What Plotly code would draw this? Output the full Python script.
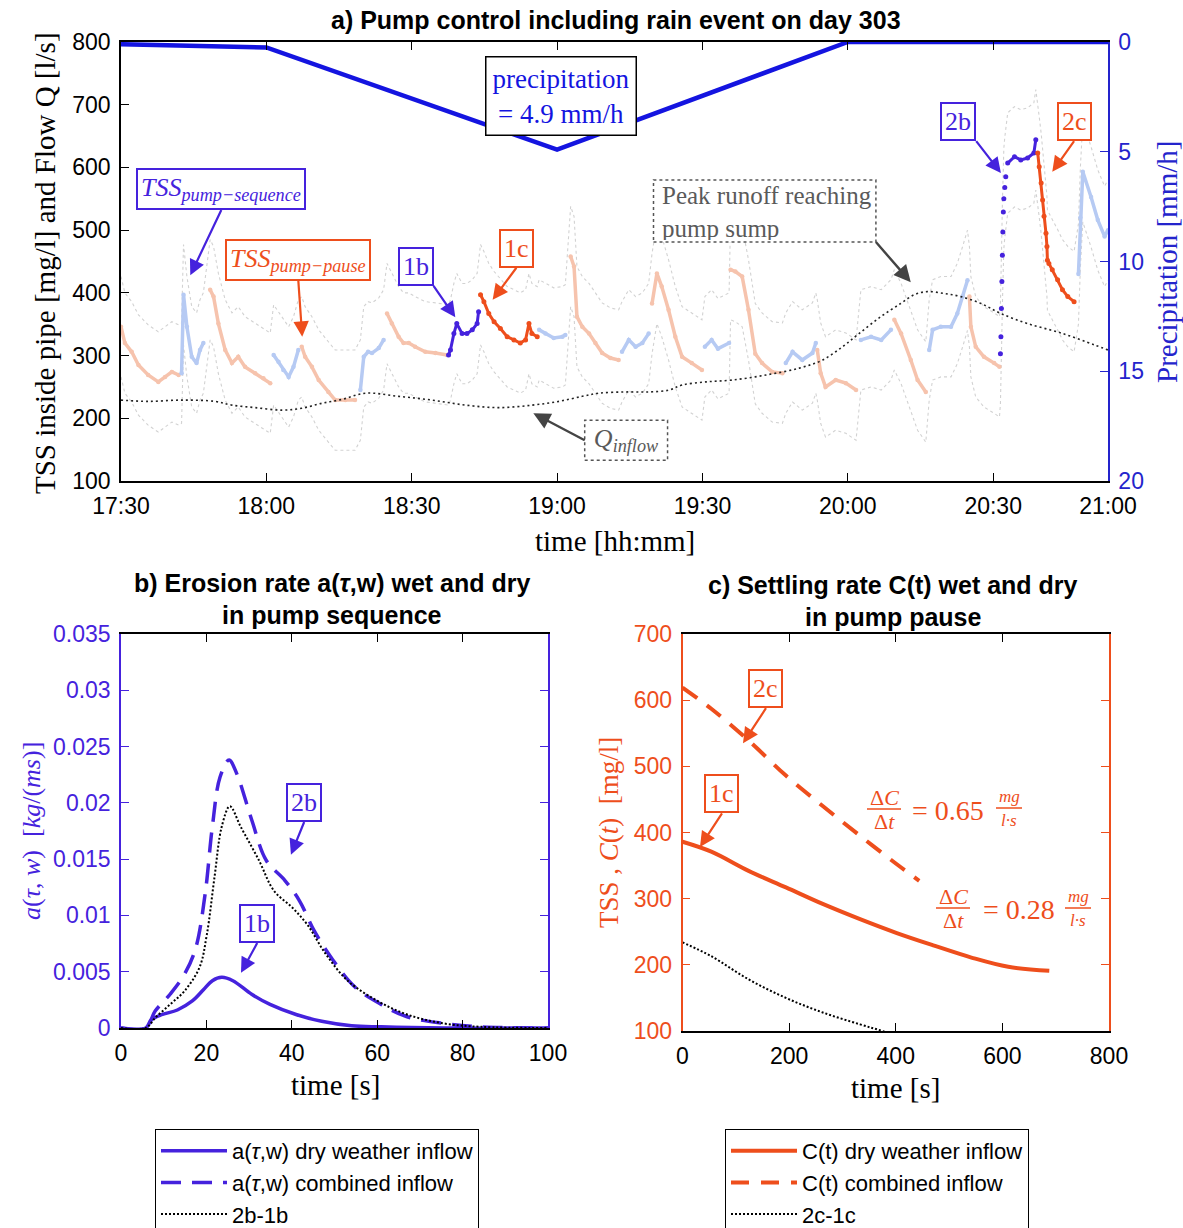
import plotly.graph_objects as go

W, H = 1183, 1228
SERIF = "Liberation Serif, DejaVu Serif, serif"
SANS = "Liberation Sans, Arial, sans-serif"

BLUE = "#1414E0"       # precipitation
VIOLET = "#4522DD"     # pump sequence (erosion)
ORANGE = "#EE4E1C"     # pump pause (settling)
PAUSE_LIGHT = "#F6C3AD"
SEQ_LIGHT = "#B6CAF3"
BAND_GREY = "#D2D2D2"

# ---------------- a) pump control, day 303 (minutes after 17:30) ----------------
time_tick_min = [0, 30, 60, 90, 120, 150, 180, 203.7]
time_tick_lbl = ["17:30", "18:00", "18:30", "19:00", "19:30", "20:00", "20:30", "21:00"]

precip_min = [0, 30, 90, 150, 203.7]
precip_mmh = [0.1, 0.25, 4.9, 0.0, 0.0]

q_inflow_min = [0, 5.6, 12.5, 19.4, 22.9, 27.7, 33.2, 37.3, 41.5, 45.6, 50.4, 57.3, 64.2,
                71.1, 78.0, 84.9, 90.4, 95.2, 98.6, 104.1, 108.9, 113.1, 115.8, 120.7,
                126.2, 133.1, 140.0, 144.8, 148.9, 152.3, 156.8, 160.9, 163.7, 166.4,
                169.9, 173.3, 177.5, 181.6, 187.1, 194.0, 200.9, 203.7]
q_inflow_ls = [229, 227, 229, 227, 221, 217, 213, 216, 224, 230, 240, 235, 229,
               221, 217, 221, 227, 235, 240, 242, 242, 245, 253, 258,
               261, 269, 280, 293, 314, 335, 362, 383, 397, 402,
               399, 394, 383, 367, 351, 336, 317, 309]

# TSS record; phase: P = pump pause, S = pump sequence,
# B = highlighted sequence (1b, 2b plateau), R = 2b rise, C = highlighted pause (1c, 2c)
tss_min = [
    0, 0.8, 2.2, 3.6, 5.6, 7.7, 9.1, 10.5, 11.9,
    12.5, 12.9, 13.6, 14.6, 15.6, 16.3, 17.0,
    18.4, 19.1, 20.1, 21.5, 22.9, 24.2, 25.6, 27.7, 29.4, 30.8,
    31.5, 32.5, 33.5, 34.6, 35.6, 36.6,
    37.3, 38.0, 39.4, 40.8, 42.8, 44.2, 46.3, 48.3,
    49.4, 50.1, 51.0, 51.8, 53.2, 54.2,
    54.9, 55.9, 57.3, 58.3, 59.4, 60.7, 62.8, 64.9, 67.3,
    67.6, 68.0, 68.7, 69.3, 70.4, 71.4, 72.5, 73.5, 73.8,
    74.2, 74.9, 75.9, 77.0, 78.3, 79.7, 81.1, 82.4, 83.5, 84.2, 84.8, 85.9,
    86.3, 87.6, 89.3, 91.1, 91.7,
    92.8, 93.5, 94.1, 95.2, 96.6, 97.9, 99.3, 101.0, 102.7,
    103.4, 104.8, 106.2, 107.6, 108.9,
    109.6, 110.6, 111.6, 113.0, 114.4, 115.8, 117.8, 119.9,
    120.5, 121.9, 123.2, 125.5,
    125.8, 126.8, 128.2, 129.5, 130.9, 132.3, 134.4, 136.5,
    137.2, 138.6, 140.6, 142.7, 143.4,
    143.7, 144.4, 145.4, 147.5, 149.6, 151.7,
    152.7, 154.8, 156.9, 158.9,
    159.6, 161.0, 163.0, 164.4, 166.1,
    166.8, 167.5, 169.2, 171.3, 172.6, 173.7, 174.7,
    175.1, 175.4, 176.4, 178.1, 180.2, 181.3,
    181.5, 181.6, 181.7, 181.8, 181.9, 182.0, 182.1, 182.2, 182.4, 182.6,
    183.0, 184.4, 185.7, 187.1, 188.4, 188.8,
    189.2, 189.5, 189.9, 190.2, 190.5, 190.9, 191.1, 191.2, 191.5, 192.2, 193.3,
    194.3, 195.4, 196.7,
    197.6, 198.0, 198.5, 200.2, 201.6, 203.0, 203.7,
]
tss_mgl = [
    346, 320, 306, 285, 269, 258, 266, 274, 269,
    272, 397, 346, 298, 288, 309, 320,
    405, 394, 351, 309, 288, 298, 282, 272, 264, 256,
    301, 290, 277, 266, 282, 309,
    314, 298, 282, 261, 242, 229, 229, 229,
    245, 298, 306, 304, 312, 325,
    367, 351, 330, 320, 320, 314, 306, 304, 301,
    301, 309, 335, 351, 335, 335, 341, 351, 370,
    397, 386, 367, 354, 343, 330, 325, 320, 325, 351, 335, 330,
    341, 335, 328, 330, 333,
    458, 442, 362, 346, 335, 320, 304, 296, 293,
    306, 325, 314, 320, 335,
    383, 431, 410, 373, 330, 298, 288, 277,
    314, 325, 311, 320,
    437, 434, 426, 373, 303, 288, 274, 272,
    288, 306, 293, 304, 320,
    309, 272, 250, 261, 256, 245,
    325, 330, 325, 341,
    357, 335, 293, 261, 242,
    309, 341, 346, 346, 367, 394, 420,
    394, 346, 314, 298, 288, 282,
    303, 330, 375, 418, 460, 497, 529, 550, 568, 585,
    607, 617, 612, 615, 623, 644,
    623, 601, 575, 548, 522, 495, 474, 452, 447, 437, 421,
    405, 394, 386,
    430, 520, 593, 553, 516, 490, 500,
]
tss_phase = (["P"] * 9 + ["S"] * 7 + ["P"] * 10 + ["S"] * 6 + ["P"] * 8 + ["S"] * 6
             + ["P"] * 9 + ["B"] * 9 + ["C"] * 12 + ["S"] * 5 + ["P"] * 9 + ["S"] * 5
             + ["P"] * 8 + ["S"] * 4 + ["P"] * 8 + ["S"] * 5 + ["P"] * 6 + ["S"] * 4
             + ["P"] * 5 + ["S"] * 7 + ["P"] * 6 + ["R"] * 10 + ["B"] * 6 + ["C"] * 14
             + ["S"] * 7)
tss_uncertainty = 80  # mg/l, sensor band drawn around the record

# ---------------- b) erosion rate ----------------
ero_t_dry = [0, 5.8, 7.1, 9.7, 13.2, 16.7, 19.3, 21.4, 23.6, 26.2, 30.6, 34.9, 41.0,
             47.0, 54.0, 60.9, 75.7, 100]
ero_dry = [0, 0, 0.00074, 0.0012, 0.0016, 0.0024, 0.0034, 0.0042, 0.0045, 0.0042,
           0.0030, 0.0021, 0.0012, 0.0006, 0.0002, 0.0001, 0, 0]
ero_t_comb = [0, 5.8, 8.0, 11.5, 14.9, 17.5, 19.7, 21.4, 23.2, 25.3, 27.1, 30.6, 34.0,
              38.4, 41.8, 45.3, 49.7, 54.9, 60.9, 67.0, 75.7, 84.4, 100]
ero_comb = [0, 0, 0.0015, 0.0030, 0.0048, 0.0071, 0.0119, 0.0179, 0.0223, 0.0238,
            0.0226, 0.0185, 0.0149, 0.0131, 0.0113, 0.0086, 0.0060, 0.0036, 0.0021,
            0.0010, 0.0004, 0.0001, 0]
ero_t_diff = [0, 5.8, 8.0, 11.5, 14.9, 18.4, 20.1, 21.9, 23.6, 25.5, 28.0, 32.3, 35.8,
              40.1, 43.6, 47.9, 53.1, 60.1, 67.0, 75.7, 84.4, 100]
ero_diff = [0, 0, 0.0009, 0.0021, 0.0033, 0.0054, 0.0083, 0.0134, 0.0179, 0.0197,
            0.0179, 0.0149, 0.0122, 0.0107, 0.0092, 0.0066, 0.0042, 0.0024, 0.0012,
            0.0004, 0.0001, 0]

# ---------------- c) settling ----------------
set_t_dry = [0, 54, 124, 194, 263, 333, 402, 472, 542, 611, 688]
set_dry = [386, 371, 342, 317, 292, 269, 248, 229, 211, 197, 191]
set_t_comb = [0, 54, 124, 194, 263, 333, 402, 444]
set_comb = [619, 587, 539, 486, 440, 395, 352, 327]
set_t_diff = [0, 54, 124, 194, 263, 333, 375, 420]
set_diff = [234, 213, 178, 150, 128, 110, 100, 88]


def phase_xy(phase):
    """Consecutive runs of one phase, separated by gaps."""
    xs, ys, inside = [], [], False
    for t, v, p in zip(tss_min, tss_mgl, tss_phase):
        if p == phase:
            xs.append(t)
            ys.append(v)
            inside = True
        elif inside:
            xs.append(None)
            ys.append(None)
            inside = False
    return xs, ys


fig = go.Figure()

# uncertainty band around the TSS record
for sign in (1, -1):
    fig.add_trace(go.Scatter(
        x=tss_min, y=[v + sign * tss_uncertainty for v in tss_mgl], mode="lines",
        line=dict(color=BAND_GREY, width=1.1, dash="dot"),
        xaxis="x", yaxis="y", showlegend=False, hoverinfo="skip"))

for phase, col in (("P", PAUSE_LIGHT), ("S", SEQ_LIGHT)):
    xs, ys = phase_xy(phase)
    fig.add_trace(go.Scatter(x=xs, y=ys, mode="lines+markers",
                             line=dict(color=col, width=3.5),
                             marker=dict(color=col, size=4.5),
                             xaxis="x", yaxis="y", showlegend=False))

fig.add_trace(go.Scatter(x=q_inflow_min, y=q_inflow_ls, mode="lines",
                         line=dict(color="#222222", width=1.6, dash="2px,3px", shape="spline"),
                         xaxis="x", yaxis="y", showlegend=False))

for phase, col, mode in (("B", VIOLET, "lines+markers"), ("R", VIOLET, "markers"),
                         ("C", ORANGE, "lines+markers")):
    xs, ys = phase_xy(phase)
    fig.add_trace(go.Scatter(x=xs, y=ys, mode=mode,
                             line=dict(color=col, width=3),
                             marker=dict(color=col, size=5),
                             xaxis="x", yaxis="y", showlegend=False))

fig.add_trace(go.Scatter(x=precip_min, y=precip_mmh, mode="lines",
                         line=dict(color=BLUE, width=4.5),
                         xaxis="x", yaxis="y2", showlegend=False))

# ---- b) ----
fig.add_trace(go.Scatter(x=ero_t_dry, y=ero_dry, mode="lines", name="a(<i>τ</i>,w) dry weather inflow",
                         line=dict(color=VIOLET, width=3.5, shape="spline"),
                         xaxis="x2", yaxis="y3", legend="legend"))
fig.add_trace(go.Scatter(x=ero_t_comb, y=ero_comb, mode="lines", name="a(<i>τ</i>,w) combined inflow",
                         line=dict(color=VIOLET, width=3.5, dash="20px,11px", shape="spline"),
                         xaxis="x2", yaxis="y3", legend="legend"))
fig.add_trace(go.Scatter(x=ero_t_diff, y=ero_diff, mode="lines", name="2b-1b",
                         line=dict(color="black", width=2, dash="2px,2px", shape="spline"),
                         xaxis="x2", yaxis="y3", legend="legend"))

# ---- c) ----
fig.add_trace(go.Scatter(x=set_t_dry, y=set_dry, mode="lines", name="C(t) dry weather inflow",
                         line=dict(color=ORANGE, width=4, shape="spline"),
                         xaxis="x3", yaxis="y4", legend="legend2"))
fig.add_trace(go.Scatter(x=set_t_comb, y=set_comb, mode="lines", name="C(t) combined inflow",
                         line=dict(color=ORANGE, width=4, dash="18px,12px", shape="spline"),
                         xaxis="x3", yaxis="y4", legend="legend2"))
fig.add_trace(go.Scatter(x=set_t_diff, y=set_diff, mode="lines", name="2c-1c",
                         line=dict(color="black", width=2, dash="2px,2px", shape="spline"),
                         xaxis="x3", yaxis="y4", legend="legend2"))


def ax(color="black", **kw):
    d = dict(showgrid=False, zeroline=False, showline=True, linewidth=1.5, linecolor=color,
             ticks="inside", ticklen=8, tickwidth=1.3, tickcolor=color, automargin=False,
             tickfont=dict(family=SANS, size=23, color=color), ticklabelstandoff=4)
    d.update(kw)
    return d


legend_style = dict(xanchor="left", yanchor="top", bordercolor="black", borderwidth=1,
                    bgcolor="white", font=dict(family=SANS, size=22, color="black"),
                    itemwidth=66)

fig.update_layout(
    width=W, height=H, margin=dict(l=0, r=0, t=0, b=0, autoexpand=False),
    paper_bgcolor="white", plot_bgcolor="white",
    xaxis=ax(domain=[121 / W, 1108 / W], range=[0, 203.7], anchor="y", mirror="ticks",
             tickvals=time_tick_min, ticktext=time_tick_lbl),
    yaxis=ax(domain=[1 - 481 / H, 1 - 42 / H], range=[100, 800], dtick=100, anchor="x"),
    yaxis2=ax(color="#2424CC", overlaying="y", side="right", anchor="x", range=[20, 0],
              tickvals=[0, 5, 10, 15, 20]),
    xaxis2=ax(domain=[121 / W, 548 / W], anchor="y3", range=[0, 100], dtick=20, mirror="ticks"),
    yaxis3=ax(color=VIOLET, domain=[1 - 1028 / H, 1 - 634 / H], anchor="x2",
              range=[0, 0.035], dtick=0.005, mirror="ticks"),
    xaxis3=ax(domain=[682.5 / W, 1109 / W], anchor="y4", range=[0, 800], dtick=200, mirror="ticks"),
    yaxis4=ax(color=ORANGE, domain=[1 - 1031 / H, 1 - 634 / H], anchor="x3",
              range=[100, 700], dtick=100, mirror="ticks"),
    legend=dict(x=155 / W, y=1 - 1129 / H, **legend_style),
    legend2=dict(x=725 / W, y=1 - 1129 / H, **legend_style),
)


def paper_text(text, px, py, size=22, color="black", family=SERIF, angle=0, bold=False):
    if bold:
        text = "<b>" + text + "</b>"
    fig.add_annotation(text=text, x=px / W, y=1 - py / H, xref="paper", yref="paper",
                       showarrow=False, textangle=angle, xanchor="center", yanchor="middle",
                       font=dict(family=family, size=size, color=color))


# titles
paper_text("a) Pump control including rain event on day 303", 616, 20, 25, family=SANS, bold=True)
paper_text("b) Erosion rate a(<i>τ</i>,w) wet and dry", 332, 583, 25, family=SANS, bold=True)
paper_text("in pump sequence", 332, 615, 25, family=SANS, bold=True)
paper_text("c) Settling rate C(t) wet and dry", 893, 585, 25, family=SANS, bold=True)
paper_text("in pump pause", 893, 617, 25, family=SANS, bold=True)

# axis titles
paper_text("TSS inside pipe [mg/l] and Flow Q [l/s]", 45, 263, 29, angle=-90)
paper_text("Precipitation [mm/h]", 1167, 262, 29, color="#2424CC", angle=-90)
paper_text("time [hh:mm]", 615, 541, 29)
paper_text("<i>a</i>(<i>τ</i>, <i>w</i>)  [<i>kg</i>/(<i>ms</i>)]", 31, 831, 26, color=VIOLET, angle=-90)
paper_text("time [s]", 335, 1085, 29)
paper_text("TSS , <i>C</i>(<i>t</i>)  [mg/l]", 609, 833, 27, color=ORANGE, angle=-90)
paper_text("time [s]", 895, 1088, 29)


def box(text, x, y, xr, yr, color, border, size=26, width=2, pad=3):
    fig.add_annotation(text=text, x=x, y=y, xref=xr, yref=yr, showarrow=False,
                       font=dict(family=SERIF, size=size, color=color),
                       bordercolor=border, borderwidth=width, borderpad=pad, bgcolor="white")


def callout(text, tail_x, tail_y, tip_x, tip_y, xr, yr, color, xanchor="center", size=26):
    """Boxed label whose arrow leaves the box at (tail_x, tail_y) and points at the tip."""
    fig.add_annotation(text=text, x=tip_x, y=tip_y, ax=tail_x, ay=tail_y,
                       xref=xr, yref=yr, axref=xr, ayref=yr,
                       xanchor=xanchor, yanchor="bottom",
                       font=dict(family=SERIF, size=size, color=color),
                       bordercolor=color, borderwidth=2, borderpad=3, bgcolor="white",
                       showarrow=True, arrowhead=2, arrowsize=1.4, arrowwidth=2.2,
                       arrowcolor=color)


# panel a call-outs
box("precipitation<br>= 4.9 mm/h", 90.9, 714, "x", "y", BLUE, "black", 27, 1.5, 6)
callout("<i>TSS</i><sub><i>pump−sequence</i></sub>", 20.7, 532, 14.3, 428, "x", "y", VIOLET)
callout("<i>TSS</i><sub><i>pump−pause</i></sub>", 36.6, 419, 37.4, 330, "x", "y", ORANGE)
callout("1b", 64.5, 411, 69.0, 361, "x", "y", VIOLET, "right")
callout("1c", 81.6, 440, 76.7, 389, "x", "y", ORANGE)
callout("2b", 176.5, 642, 181.6, 591, "x", "y", VIOLET, "right")
callout("2c", 196.7, 642, 192.2, 593, "x", "y", ORANGE)

# dotted call-outs: runoff peak and inflow
GREY_TXT = "#5A5A5A"
fig.add_shape(type="rect", x0=109.9, x1=155.8, y0=481, y1=580, xref="x", yref="y",
              line=dict(color="#555555", width=1.5, dash="dot"), fillcolor="white", layer="above")
fig.add_annotation(text="Peak runoff reaching<br>pump sump", x=163.0, y=417, ax=155.8, ay=481,
                   xref="x", yref="y", axref="x", ayref="y", xanchor="right", yanchor="bottom",
                   align="left", width=212, height=56,
                   font=dict(family=SERIF, size=25, color=GREY_TXT),
                   showarrow=True, arrowhead=2, arrowsize=1.4, arrowwidth=2.4, arrowcolor="#444444")
fig.add_shape(type="rect", x0=95.7, x1=112.8, y0=133, y1=197, xref="x", yref="y",
              line=dict(color="#555555", width=1.5, dash="dot"), fillcolor="white", layer="above")
fig.add_annotation(text="<i>Q</i><sub><i>inflow</i></sub>", x=85.1, y=208, ax=95.7, ay=165,
                   xref="x", yref="y", axref="x", ayref="y", xanchor="left", yanchor="middle",
                   width=78, height=36,
                   font=dict(family=SERIF, size=26, color=GREY_TXT),
                   showarrow=True, arrowhead=2, arrowsize=1.4, arrowwidth=2.4, arrowcolor="#444444")

# panel b call-outs
callout("2b", 42.9, 0.0183, 39.8, 0.0154, "x2", "y3", VIOLET)
callout("1b", 31.9, 0.00755, 28.1, 0.0049, "x2", "y3", VIOLET)

# panel c call-outs
callout("2c", 156.6, 588, 113.5, 535, "x3", "y4", ORANGE)
callout("1c", 74.1, 429, 32.8, 378, "x3", "y4", ORANGE)


def fraction(cx, cy, num, den, half, size, color):
    paper_text(num, cx, cy - 12, size, color)
    paper_text(den, cx, cy + 12, size, color)
    fig.add_shape(type="line", x0=(cx - half) / W, x1=(cx + half) / W, y0=1 - cy / H, y1=1 - cy / H,
                  xref="paper", yref="paper", line=dict(color=color, width=1.5))


fraction(884, 809, "Δ<i>C</i>", "Δ<i>t</i>", 17, 22, ORANGE)
paper_text("= 0.65", 948, 810, 28, ORANGE)
fraction(1009, 808, "<i>mg</i>", "<i>l·s</i>", 13, 17, ORANGE)

fraction(953, 908, "Δ<i>C</i>", "Δ<i>t</i>", 17, 22, ORANGE)
paper_text("= 0.28", 1019, 909, 28, ORANGE)
fraction(1078, 908, "<i>mg</i>", "<i>l·s</i>", 13, 17, ORANGE)

fig.write_html("out.html")
